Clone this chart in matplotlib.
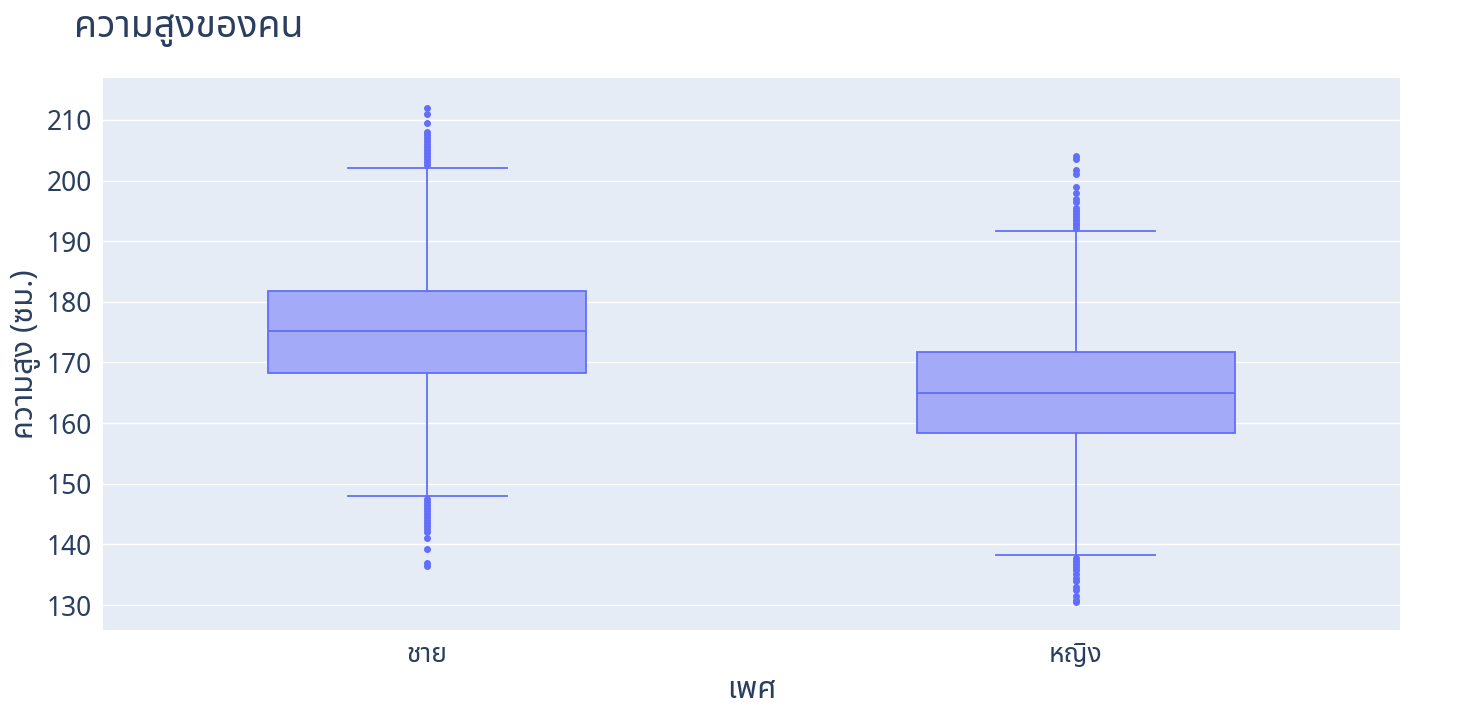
import matplotlib
matplotlib.use("Agg")
import matplotlib.pyplot as plt
from matplotlib import font_manager as fm

categories = ["ชาย", "หญิง"]
q1 = [168.2, 158.3]
median = [175.2, 165.0]
q3 = [181.8, 171.7]
whislo = [148.0, 138.2]
whishi = [202.0, 191.7]
fliers = [
    [202.5, 203, 203.5, 204, 204.5, 205, 205.5, 206, 206.5, 207, 207.5, 208, 209.5, 211, 212,
     147.5, 147, 146.5, 146, 145.5, 145, 144.5, 144, 143.5, 143, 142.5, 142, 141, 139.2, 137, 136.5],
    [192.2, 192.6, 193, 193.5, 194, 194.5, 195, 195.5, 196.5, 197, 198, 199, 201, 201.7, 203.5, 204,
     137.8, 137.3, 136.8, 136.3, 135.8, 135.2, 134.5, 134, 133, 132.5, 131.5, 130.8, 130.5],
]

names = {f.name for f in fm.fontManager.ttflist}
thai = [n for n in ["Noto Sans Thai", "Noto Sans Thai Looped", "Loma", "Garuda", "Norasi", "Tlwg Typo", "Sarabun"] if n in names]
plt.rcParams['font.family'] = thai + ["Noto Sans", "DejaVu Sans"]

fig = plt.figure(figsize=(14.64, 7.2), dpi=100)
ax = fig.add_axes([103/1464, 90/720, 1297/1464, 552/720])
ax.set_facecolor("#E5ECF6")
stats = [dict(med=median[i], q1=q1[i], q3=q3[i], whislo=whislo[i], whishi=whishi[i], fliers=fliers[i], label=categories[i]) for i in range(2)]
c = "#636EFA"
ax.bxp(stats, positions=[0, 1], widths=0.49, patch_artist=True, showfliers=True,
       boxprops=dict(facecolor="#A3AAF8", edgecolor=c, linewidth=1.3),
       medianprops=dict(color=c, linewidth=1.3),
       whiskerprops=dict(color=c, linewidth=1.3),
       capprops=dict(color=c, linewidth=1.3), capwidths=0.245,
       flierprops=dict(marker="o", markersize=4, markerfacecolor=c, markeredgecolor=c))
ax.set_xlim(-0.5, 1.5)
ax.set_ylim(125.9, 216.9)
ax.set_yticks(range(130, 211, 10))
ax.grid(axis="y", color="white", linewidth=1)
ax.set_axisbelow(True)
for s in ax.spines.values():
    s.set_visible(False)
ax.tick_params(length=0, labelsize=19, colors="#2A3F5F", pad=8)
ax.set_xlabel("เพศ", fontsize=22, color="#2A3F5F")
ax.set_ylabel("ความสูง (ซม.)", fontsize=22, color="#2A3F5F", labelpad=4)
fig.text(74/1464, 1-28/720, "ความสูงของคน", fontsize=27, color="#2A3F5F", va="center")
fig.savefig("out.png", dpi=100)
